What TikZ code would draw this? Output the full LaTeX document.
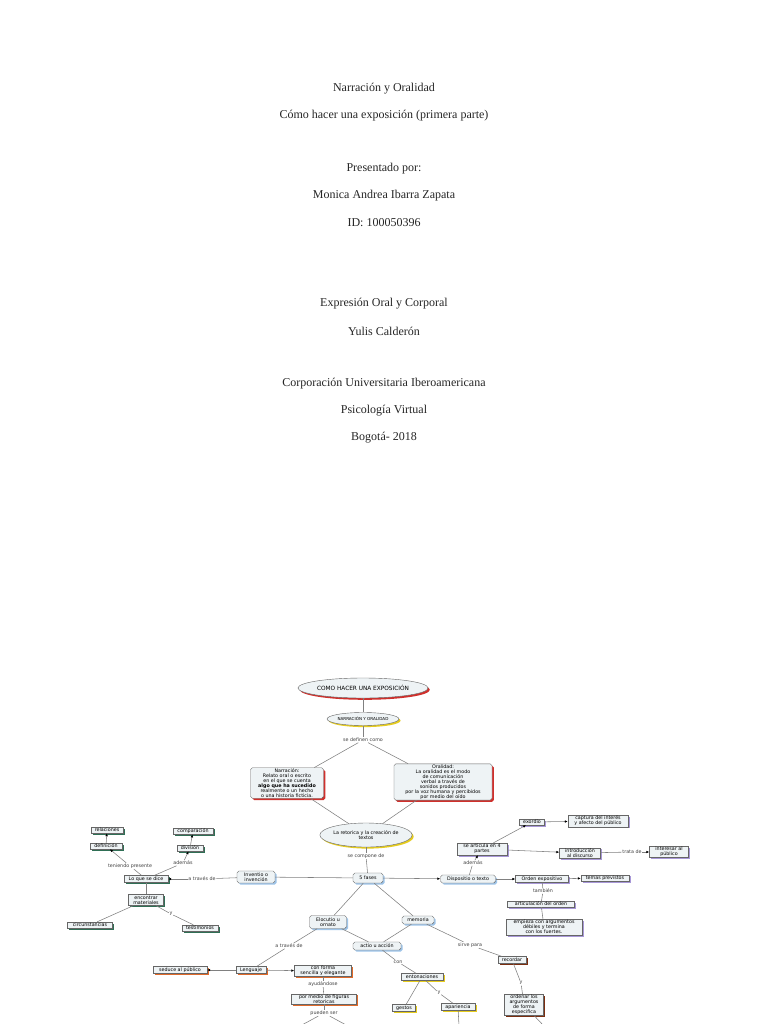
\documentclass[tikz,border=0pt]{standalone}
\usepackage{fontspec}
\setmainfont{Liberation Serif}
\newfontfamily\mapsans{DejaVu Sans}
\usetikzlibrary{shapes.geometric,shadows,arrows.meta}
\definecolor{boxfill}{HTML}{EEF3F5}
\definecolor{shred}{HTML}{D0302C}
\definecolor{shyel}{HTML}{E6CC1E}
\definecolor{shgrn}{HTML}{2F6F55}
\definecolor{shblu}{HTML}{9EC4E8}
\definecolor{shpur}{HTML}{A898D8}
\definecolor{shora}{HTML}{E06A2A}
\definecolor{shbrn}{HTML}{7A2E10}
\begin{document}
\begin{tikzpicture}[x=1pt,y=-1pt,
  ttl/.style={font=\fontsize{12}{14}\selectfont, inner sep=0pt, text=black!85},
  mapf/.style={font=\mapsans\fontsize{4.8}{5}\selectfont},
  box/.style={mapf, draw=black!60, line width=0.4pt, fill=boxfill, align=center,
              inner xsep=1pt, inner ysep=0.8pt, text=black},
  rnd/.style={rounded corners=1.8pt},
  ell/.style={box, ellipse, inner sep=0pt},
  shR/.style={general shadow={fill=shred, shadow xshift=1.8pt, shadow yshift=-1.8pt}},
  shY/.style={general shadow={fill=shyel, shadow xshift=1.6pt, shadow yshift=-1.6pt}},
  shG/.style={general shadow={fill=shgrn, shadow xshift=1.5pt, shadow yshift=-1.5pt}},
  shB/.style={general shadow={fill=shblu, shadow xshift=1.6pt, shadow yshift=-1.6pt}},
  shP/.style={general shadow={fill=shpur, shadow xshift=1.5pt, shadow yshift=-1.5pt}},
  shO/.style={general shadow={fill=shora, shadow xshift=1.5pt, shadow yshift=-1.5pt}},
  shN/.style={general shadow={fill=shbrn, shadow xshift=1.5pt, shadow yshift=-1.5pt}},
  lab/.style={mapf, text=black!75, fill=white, inner sep=0.6pt},
  ln/.style={draw=black!50, line width=0.55pt},
  arr/.style={ln, -{Latex[length=3pt,width=2.6pt,color=black]}},
]
\useasboundingbox (0,0) rectangle (768,1024);
\fill[white] (0,0) rectangle (768,1024);

% ---------- title page ----------
\node[ttl] (t1) at (384,89) {Narración y Oralidad};
\node[ttl] (t2) at (384,116) {Cómo hacer una exposición (primera parte)};
\node[ttl] (t3) at (384,169) {Presentado por:};
\node[ttl] (t4) at (384,196) {Monica Andrea Ibarra Zapata};
\node[ttl] (t5) at (384,223) {ID: 100050396};
\node[ttl] (t6) at (384,304) {Expresión Oral y Corporal};
\node[ttl] (t7) at (384,331) {Yulis Calderón};
\node[ttl] (t8) at (384,384) {Corporación Universitaria Iberoamericana};
\node[ttl] (t9) at (384,411) {Psicología Virtual};
\node[ttl] (t10) at (384,438) {Bogotá- 2018};

% ---------- concept map: nodes ----------
\node[ell,shR,minimum width=120pt,minimum height=20pt,font=\mapsans\fontsize{5.8}{6}\selectfont] (como) at (363,688) {COMO HACER UNA EXPOSICIÓN};
\node[ell,shY,minimum width=70pt,minimum height=13pt,font=\mapsans\fontsize{4.1}{4.5}\selectfont] (nyo) at (363,719) {NARRACIÓN Y ORALIDAD};
\node[lab] (ldef) at (363,740) {se definen como};
\node[box,rnd,shR,minimum width=73pt,minimum height=30pt] (narr) at (287,783)
  {Narración:\\Relato oral o escrito\\en el que se cuenta\\\textbf{algo que ha sucedido}\\realmente o un hecho\\o una historia ficticia.};
\node[box,rnd,shR,minimum width=98pt,minimum height=35pt] (oral) at (443,782)
  {Oralidad:\\La oralidad es el modo\\de comunicación\\verbal a través de\\sonidos producidos\\por la voz humana y percibidos\\por medio del oído};
\node[ell,shY,minimum width=92pt,minimum height=24pt] (ret) at (366,835) {La retorica y la creación de\\textos};
\node[lab] (lcomp) at (366,856) {se compone de};
\node[box,rnd,shB,minimum width=30pt,minimum height=10pt] (fases) at (368,878) {5 fases};

% left branch
\node[box,rnd,shB,minimum width=38pt,minimum height=12pt] (inv) at (256,877) {Inventio o\\invención};
\node[lab] (latr1) at (202,879) {a través de};
\node[box,shG,minimum width=44pt,minimum height=7pt] (lqsd) at (146,879) {Lo que se dice};
\node[lab] (lten) at (130,866) {teniendo presente};
\node[box,shG,minimum width=32pt,minimum height=6pt] (defi) at (106,846) {definición};
\node[box,shG,minimum width=32pt,minimum height=6pt] (rel) at (107,830) {relaciones};
\node[lab] (lad1) at (183,863) {además};
\node[box,shG,minimum width=26pt,minimum height=6pt] (divi) at (190,848) {división};
\node[box,shG,minimum width=40pt,minimum height=6pt] (comp) at (193,831) {comparación};
\node[box,shG,minimum width=35pt,minimum height=11pt] (enc) at (146,900) {encontrar\\materiales};
\node[box,shG,minimum width=45pt,minimum height=6pt] (circ) at (90,925) {circunstancias};
\node[lab] (ly1) at (171,914) {y};
\node[box,shG,minimum width=36pt,minimum height=6pt] (test) at (200,928) {testimonios};

% right branch
\node[box,rnd,shB,minimum width=55pt,minimum height=8pt] (disp) at (468,879) {Dispositio o texto};
\node[lab] (lad2) at (473,863) {además};
\node[box,shP,minimum width=50pt,minimum height=12pt] (art4) at (482,849) {se articula en 4\\partes};
\node[box,shP,minimum width=25pt,minimum height=6pt] (exo) at (532,822) {exordio};
\node[box,shP,minimum width=60pt,minimum height=11pt] (cap) at (598,821) {captura del interés\\y afecto del público};
\node[box,shP,minimum width=41pt,minimum height=10pt] (intro) at (580,853) {introducción\\al discurso};
\node[lab] (ltrata) at (632,852) {trata de};
\node[box,shP,minimum width=39pt,minimum height=10pt] (inter) at (669,852) {interesar al\\público};
\node[box,shP,minimum width=53pt,minimum height=7pt] (orden) at (542,879) {Orden expositivo};
\node[box,shP,minimum width=48pt,minimum height=6pt] (temas) at (605,878) {temas previstos};
\node[lab] (ltamb) at (543,891) {también};
\node[box,shP,minimum width=67pt,minimum height=6pt] (artord) at (541,904) {articulación del orden};
\node[box,shP,minimum width=76pt,minimum height=16pt] (emp) at (544,927) {empieza con argumentos\\débiles y termina\\con los fuertes.};

% lower branch
\node[box,rnd,shB,minimum width=37pt,minimum height=13pt] (eloc) at (328,922) {Elocutio u\\ornato};
\node[box,rnd,shB,minimum width=32pt,minimum height=8pt] (mem) at (418,920) {memoria};
\node[box,rnd,shB,minimum width=48pt,minimum height=8pt] (actio) at (377,946) {actio u acción};
\node[lab] (latr2) at (289,946) {a través de};
\node[box,shO,minimum width=30pt,minimum height=7pt] (leng) at (251,970) {Lenguaje};
\node[box,shO,minimum width=54pt,minimum height=7pt] (sed) at (180,970) {seduce al público};
\node[box,shO,minimum width=57pt,minimum height=11pt] (conf) at (323,971) {con forma\\sencilla y elegante};
\node[lab] (layu) at (323,984) {ayudándose};
\node[box,shO,minimum width=65pt,minimum height=10pt] (fig) at (324,999) {por medio de figuras\\retoricas};
\node[lab] (lpue) at (324,1013) {pueden ser};
\coordinate (pa) at (300,1026);
\coordinate (pb) at (348,1026);
\node[lab] (lcon) at (398,962) {con};
\node[box,shY,minimum width=42pt,minimum height=7pt] (ent) at (422,977) {entonaciones};
\node[box,shY,minimum width=23pt,minimum height=7pt] (ges) at (404,1008) {gestos};
\node[lab] (ly2) at (439,993) {y};
\node[box,shY,minimum width=34pt,minimum height=7pt] (apa) at (458,1007) {apariencia};
\coordinate (apd) at (459,1026);
\node[lab] (lsirve) at (470,945) {sirve para};
\node[box,shN,minimum width=28pt,minimum height=7pt] (rec) at (512,960) {recordar};
\node[lab] (ly3) at (521,983) {y};
\node[box,shN,minimum width=39pt,minimum height=20pt] (ord) at (524,1005) {ordenar los\\argumentos\\de forma\\especifica};
\coordinate (ordd) at (544,1026);

% ---------- connectors ----------
\draw[ln] (como) -- (nyo);
\draw[ln] (nyo) -- (ldef);
\draw[ln] (ldef) -- (narr);
\draw[ln] (ldef) -- (oral);
\draw[ln] (narr) -- (ret);
\draw[ln] (oral) -- (ret);
\draw[ln] (ret) -- (lcomp);
\draw[ln] (lcomp) -- (fases);

\draw[ln] (fases) -- (inv);
\draw[ln] (inv) -- (latr1);
\draw[arr] (latr1) -- (lqsd);
\draw[ln] (lqsd) -- (lten);
\draw[arr] (lten) -- (defi);
\draw[arr] (defi) -- (rel);
\draw[ln] (lqsd) -- (lad1);
\draw[arr] (lad1) -- (divi);
\draw[arr] (divi) -- (comp);
\draw[ln] (lqsd) -- (enc);
\draw[ln] (enc) -- (circ);
\draw[ln] (enc) -- (ly1);
\draw[ln] (ly1) -- (test);

\draw[arr] (fases) -- (disp);
\draw[ln] (disp) -- (lad2);
\draw[arr] (lad2) -- (art4);
\draw[arr] (art4) -- (exo);
\draw[arr] (exo) -- (cap);
\draw[arr] (art4) -- (intro);
\draw[ln] (intro) -- (ltrata);
\draw[arr] (ltrata) -- (inter);
\draw[arr] (disp) -- (orden);
\draw[arr] (orden) -- (temas);
\draw[ln] (orden) -- (ltamb);
\draw[ln] (ltamb) -- (artord);
\draw[ln] (artord) -- (emp);

\draw[ln] (fases) -- (eloc);
\draw[ln] (fases) -- (mem);
\draw[ln] (eloc) -- (actio);
\draw[ln] (mem) -- (actio);
\draw[ln] (eloc) -- (latr2);
\draw[ln] (latr2) -- (leng);
\draw[arr] (leng) -- (sed);
\draw[arr] (leng) -- (conf);
\draw[ln] (conf) -- (layu);
\draw[ln] (layu) -- (fig);
\draw[ln] (fig) -- (lpue);
\draw[ln] (lpue) -- (pa);
\draw[ln] (lpue) -- (pb);
\draw[ln] (actio) -- (lcon);
\draw[ln] (lcon) -- (ent);
\draw[ln] (ent) -- (ges);
\draw[ln] (ent) -- (ly2);
\draw[ln] (ly2) -- (apa);
\draw[ln] (apa) -- (apd);
\draw[ln] (mem) -- (lsirve);
\draw[ln] (lsirve) -- (rec);
\draw[ln] (rec) -- (ly3);
\draw[ln] (ly3) -- (ord);
\draw[ln] (ord) -- (ordd);
\end{tikzpicture}
\end{document}
